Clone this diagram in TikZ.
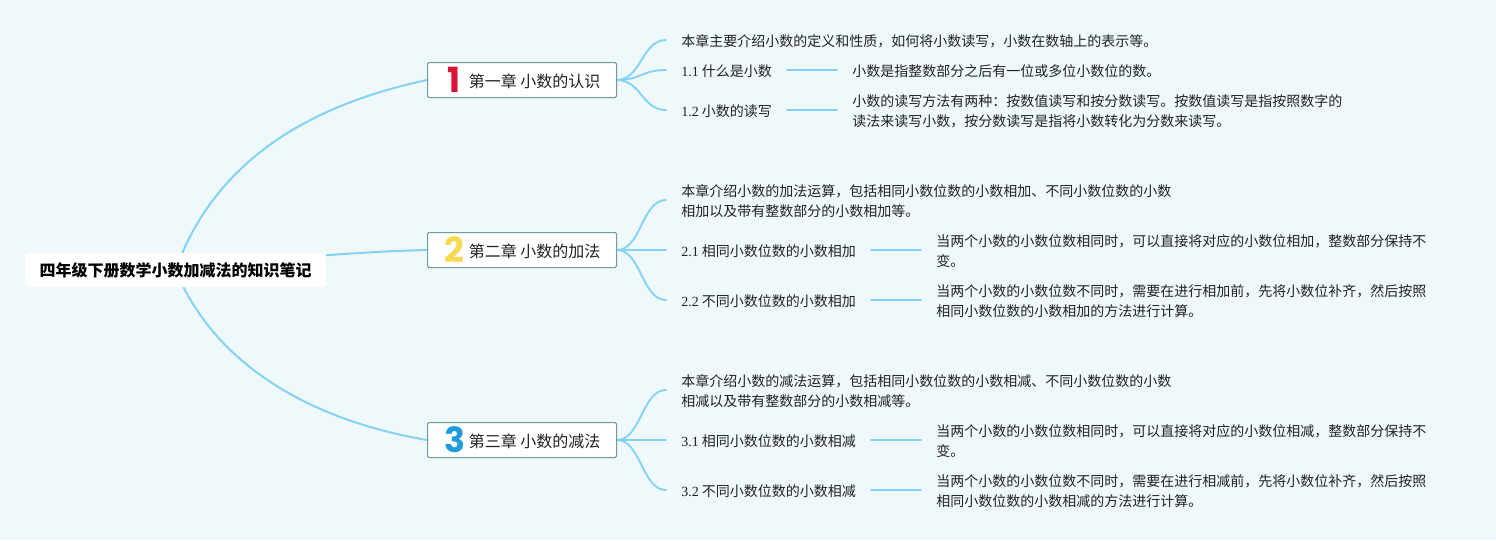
\documentclass[tikz,border=0pt]{standalone}
\usepackage{fontspec}
\usetikzlibrary{backgrounds}
\setmainfont{Noto Sans CJK SC}
\newfontfamily\lat{Liberation Serif}
\newfontfamily\digit{Poppins}[BoldFont=* Bold]
\definecolor{bgc}{HTML}{EFF8FB}
\definecolor{edgec}{HTML}{84D2F6}
\definecolor{boxc}{HTML}{6F9C9C}
\definecolor{txt}{HTML}{222222}
\definecolor{numa}{HTML}{DC1436}
\definecolor{numb}{HTML}{F8D84E}
\definecolor{numc}{HTML}{1E9CDC}
\tikzset{
  x=0.75pt,y=-0.75pt,
  rootbox/.style={fill=white,rounded corners=2pt,minimum width=225.75pt,minimum height=25.5pt,inner sep=0pt,font=\fontsize{12}{15}\selectfont\bfseries,text=black},
  chapbox/.style={draw=boxc,line width=0.75pt,fill=white,rounded corners=1pt,minimum width=141.75pt,minimum height=26.25pt,inner sep=0pt},
  chaptxt/.style={anchor=west,inner sep=0pt,font=\fontsize{12}{15}\selectfont,text=txt},
  numtxt/.style={inner sep=0pt,font=\fontsize{26}{26}\selectfont\digit\bfseries},
  leaf/.style={anchor=west,inner xsep=11.25pt,inner ysep=0pt,align=left,font=\fontsize{10.5}{15}\selectfont,text=txt},
  link/.style={draw=edgec,line width=1.4pt,line cap=round},
  mainlink/.style={draw=edgec,line width=1.5pt},
}
\begin{document}
\begin{tikzpicture}
\useasboundingbox (0,0) rectangle (1496,540);
\begin{scope}[on background layer]
\fill[bgc] (0,0) rectangle (1496,540);
\end{scope}
% root
\node[rootbox] (root) at (175.5,270) {四年级下册数学小数加减法的知识笔记};
% chapters
\node[chapbox] (c1) at (522,80) {};
\node[chapbox] (c2) at (522,250) {};
\node[chapbox] (c3) at (522,440) {};
\node[numtxt,text=numa] (n1) at (454.5,79.5) {1};
\node[numtxt,text=numb] (n2) at (454,249.5) {2};
\node[numtxt,text=numc] (n3) at (454.5,439.5) {3};
\node[chaptxt] (t1) at (468.5,81) {第一章 小数的认识};
\node[chaptxt] (t2) at (468.5,251) {第二章 小数的加法};
\node[chaptxt] (t3) at (468.5,441) {第三章 小数的减法};
% chapter 1
\node[leaf] (a0) at (666,41) {本章主要介绍小数的定义和性质，如何将小数读写，小数在数轴上的表示等。};
\node[leaf] (a1) at (666,71) {{\lat 1.1} 什么是小数};
\node[leaf] (a2) at (666,111) {{\lat 1.2} 小数的读写};
\node[leaf] (a1d) at (837,71) {小数是指整数部分之后有一位或多位小数位的数。};
\node[leaf] (a2d) at (837,111) {小数的读写方法有两种：按数值读写和按分数读写。按数值读写是指按照数字的\\读法来读写小数，按分数读写是指将小数转化为分数来读写。};
% chapter 2
\node[leaf] (b0) at (666,201) {本章介绍小数的加法运算，包括相同小数位数的小数相加、不同小数位数的小数\\相加以及带有整数部分的小数相加等。};
\node[leaf] (b1) at (666,251) {{\lat 2.1} 相同小数位数的小数相加};
\node[leaf] (b2) at (666,301) {{\lat 2.2} 不同小数位数的小数相加};
\node[leaf] (b1d) at (921,251) {当两个小数的小数位数相同时，可以直接将对应的小数位相加，整数部分保持不\\变。};
\node[leaf] (b2d) at (921,301) {当两个小数的小数位数不同时，需要在进行相加前，先将小数位补齐，然后按照\\相同小数位数的小数相加的方法进行计算。};
% chapter 3
\node[leaf] (d0) at (666,391) {本章介绍小数的减法运算，包括相同小数位数的小数相减、不同小数位数的小数\\相减以及带有整数部分的小数相减等。};
\node[leaf] (d1) at (666,441) {{\lat 3.1} 相同小数位数的小数相减};
\node[leaf] (d2) at (666,491) {{\lat 3.2} 不同小数位数的小数相减};
\node[leaf] (d1d) at (921,441) {当两个小数的小数位数相同时，可以直接将对应的小数位相减，整数部分保持不\\变。};
\node[leaf] (d2d) at (921,491) {当两个小数的小数位数不同时，需要在进行相减前，先将小数位补齐，然后按照\\相同小数位数的小数相减的方法进行计算。};
% connectors
\begin{scope}[on background layer]
\draw[mainlink] (root.center) .. controls (215,160) and (310,105) .. (c1.west);
\draw[mainlink] (root.center) .. controls (250,262) and (340,252) .. (c2.west);
\draw[mainlink] (root.center) .. controls (215,365) and (310,420) .. (c3.west);
\foreach \c/\l in {c1/a0,c1/a1,c1/a2,c2/b0,c2/b1,c2/b2,c3/d0,c3/d1,c3/d2}{
  \draw[link] (\c.east) .. controls +(24,0) and +(-24,0) .. ([yshift=0.75pt]\l.west);
}
\foreach \l/\d in {a1/a1d,a2/a2d,b1/b1d,b2/b2d,d1/d1d,d2/d2d}{
  \draw[link] ([yshift=0.75pt]\l.east) -- ([yshift=0.75pt]\d.west);
}
\end{scope}
\end{tikzpicture}
\end{document}
